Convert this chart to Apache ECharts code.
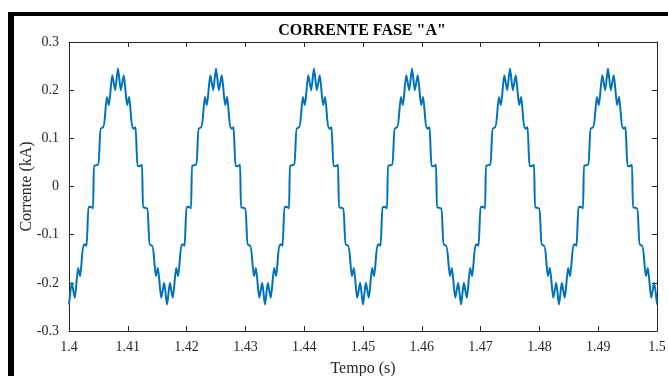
<!DOCTYPE html>
<html>
<head>
<meta charset="utf-8">
<script src="https://cdn.jsdelivr.net/npm/echarts@6/dist/echarts.min.js"></script>
<style>
  html, body { margin: 0; padding: 0; background: #fff; }
  #chart { width: 668px; height: 376px; }
</style>
</head>
<body>
<div id="chart"></div>
<script>
// tempo (s), six cycles from trough to trough
const tempo = [
  1.40000, 1.40048, 1.40099, 1.40155, 1.40190, 1.40242, 1.40270, 1.40300, 1.40330, 1.40370, 1.40410, 1.40423, 1.40460, 1.40504, 1.40534, 1.40565, 1.40592, 1.40644, 1.40679, 1.40735, 1.40786, 1.40833, 1.40881, 1.40932, 1.40988, 1.41023, 1.41075, 1.41105, 1.41133, 1.41163, 1.41203, 1.41243, 1.41257, 1.41293, 1.41337, 1.41367, 1.41398, 1.41425, 1.41477, 1.41512, 1.41568, 1.41619,
  1.41667, 1.41715, 1.41766, 1.41822, 1.41857, 1.41909, 1.41937, 1.41967, 1.41997, 1.42037, 1.42077, 1.42090, 1.42127, 1.42171, 1.42201, 1.42232, 1.42259, 1.42311, 1.42346, 1.42402, 1.42453, 1.42500, 1.42548, 1.42599, 1.42655, 1.42690, 1.42742, 1.42772, 1.42800, 1.42830, 1.42870, 1.42910, 1.42924, 1.42960, 1.43004, 1.43034, 1.43065, 1.43092, 1.43144, 1.43179, 1.43235, 1.43286,
  1.43333, 1.43381, 1.43432, 1.43488, 1.43523, 1.43575, 1.43603, 1.43633, 1.43663, 1.43703, 1.43743, 1.43756, 1.43793, 1.43837, 1.43867, 1.43898, 1.43925, 1.43977, 1.44012, 1.44068, 1.44119, 1.44166, 1.44214, 1.44265, 1.44321, 1.44356, 1.44408, 1.44438, 1.44466, 1.44496, 1.44536, 1.44576, 1.44590, 1.44626, 1.44670, 1.44700, 1.44731, 1.44758, 1.44810, 1.44845, 1.44901, 1.44952,
  1.45000, 1.45048, 1.45099, 1.45155, 1.45190, 1.45242, 1.45270, 1.45300, 1.45330, 1.45370, 1.45410, 1.45423, 1.45460, 1.45504, 1.45534, 1.45565, 1.45592, 1.45644, 1.45679, 1.45735, 1.45786, 1.45833, 1.45881, 1.45932, 1.45988, 1.46023, 1.46075, 1.46105, 1.46133, 1.46163, 1.46203, 1.46243, 1.46257, 1.46293, 1.46337, 1.46367, 1.46398, 1.46425, 1.46477, 1.46512, 1.46568, 1.46619,
  1.46667, 1.46715, 1.46766, 1.46822, 1.46857, 1.46909, 1.46937, 1.46967, 1.46997, 1.47037, 1.47077, 1.47090, 1.47127, 1.47171, 1.47201, 1.47232, 1.47259, 1.47311, 1.47346, 1.47402, 1.47453, 1.47500, 1.47548, 1.47599, 1.47655, 1.47690, 1.47742, 1.47772, 1.47800, 1.47830, 1.47870, 1.47910, 1.47924, 1.47960, 1.48004, 1.48034, 1.48065, 1.48092, 1.48144, 1.48179, 1.48235, 1.48286,
  1.48333, 1.48381, 1.48432, 1.48488, 1.48523, 1.48575, 1.48603, 1.48633, 1.48663, 1.48703, 1.48743, 1.48756, 1.48793, 1.48837, 1.48867, 1.48898, 1.48925, 1.48977, 1.49012, 1.49068, 1.49119, 1.49166, 1.49214, 1.49265, 1.49321, 1.49356, 1.49408, 1.49438, 1.49466, 1.49496, 1.49536, 1.49576, 1.49590, 1.49626, 1.49670, 1.49700, 1.49731, 1.49758, 1.49810, 1.49845, 1.49901, 1.49952,
  1.50000
]

// corrente fase A (kA)
const corrente = [
  -0.245, -0.200, -0.231, -0.169, -0.186, -0.123, -0.120, -0.123, -0.043, -0.042, -0.045, 0.043, 0.044, 0.046, 0.120, 0.122, 0.125, 0.186, 0.169, 0.231, 0.200, 0.245, 0.200, 0.231, 0.169, 0.186, 0.123, 0.120, 0.123, 0.043, 0.042, 0.045, -0.043, -0.044, -0.046, -0.120, -0.122, -0.125, -0.186, -0.169, -0.231, -0.200,
  -0.245, -0.200, -0.231, -0.169, -0.186, -0.123, -0.120, -0.123, -0.043, -0.042, -0.045, 0.043, 0.044, 0.046, 0.120, 0.122, 0.125, 0.186, 0.169, 0.231, 0.200, 0.245, 0.200, 0.231, 0.169, 0.186, 0.123, 0.120, 0.123, 0.043, 0.042, 0.045, -0.043, -0.044, -0.046, -0.120, -0.122, -0.125, -0.186, -0.169, -0.231, -0.200,
  -0.245, -0.200, -0.231, -0.169, -0.186, -0.123, -0.120, -0.123, -0.043, -0.042, -0.045, 0.043, 0.044, 0.046, 0.120, 0.122, 0.125, 0.186, 0.169, 0.231, 0.200, 0.245, 0.200, 0.231, 0.169, 0.186, 0.123, 0.120, 0.123, 0.043, 0.042, 0.045, -0.043, -0.044, -0.046, -0.120, -0.122, -0.125, -0.186, -0.169, -0.231, -0.200,
  -0.245, -0.200, -0.231, -0.169, -0.186, -0.123, -0.120, -0.123, -0.043, -0.042, -0.045, 0.043, 0.044, 0.046, 0.120, 0.122, 0.125, 0.186, 0.169, 0.231, 0.200, 0.245, 0.200, 0.231, 0.169, 0.186, 0.123, 0.120, 0.123, 0.043, 0.042, 0.045, -0.043, -0.044, -0.046, -0.120, -0.122, -0.125, -0.186, -0.169, -0.231, -0.200,
  -0.245, -0.200, -0.231, -0.169, -0.186, -0.123, -0.120, -0.123, -0.043, -0.042, -0.045, 0.043, 0.044, 0.046, 0.120, 0.122, 0.125, 0.186, 0.169, 0.231, 0.200, 0.245, 0.200, 0.231, 0.169, 0.186, 0.123, 0.120, 0.123, 0.043, 0.042, 0.045, -0.043, -0.044, -0.046, -0.120, -0.122, -0.125, -0.186, -0.169, -0.231, -0.200,
  -0.245, -0.200, -0.231, -0.169, -0.186, -0.123, -0.120, -0.123, -0.043, -0.042, -0.045, 0.043, 0.044, 0.046, 0.120, 0.122, 0.125, 0.186, 0.169, 0.231, 0.200, 0.245, 0.200, 0.231, 0.169, 0.186, 0.123, 0.120, 0.123, 0.043, 0.042, 0.045, -0.043, -0.044, -0.046, -0.120, -0.122, -0.125, -0.186, -0.169, -0.231, -0.200,
  -0.245
]

const xTicks = { min: 1.4, max: 1.5, step: 0.01 }
const yTicks = { min: -0.3, max: 0.3, step: 0.1 }

const font = "'Liberation Serif', 'Times New Roman', serif"
const axisColor = '#262626'

const chart = echarts.init(document.getElementById('chart'))

const boxAxis = (extra) => Object.assign({
    type: 'value',
    axisLine: { show: true, onZero: false, lineStyle: { color: axisColor, width: 1 } },
    axisTick: { show: true, inside: true, length: 5, lineStyle: { color: axisColor } },
    splitLine: { show: false },
    axisLabel: { show: false }
}, extra)

chart.setOption({
    animation: false,
    backgroundColor: '#fff',
    title: {
        text: 'CORRENTE FASE "A"',
        left: 357,
        textAlign: 'center',
        top: 18,
        textStyle: { fontFamily: font, fontSize: 16, fontWeight: 'bold', color: '#000' }
    },
    grid: { left: 69, right: 11, top: 42, bottom: 45, outerBoundsMode: 'none', containLabel: false },
    xAxis: [
        boxAxis({
            min: xTicks.min, max: xTicks.max, interval: xTicks.step,
            name: 'Tempo (s)', nameLocation: 'middle', nameGap: 30,
            nameTextStyle: { fontFamily: font, fontSize: 16, color: axisColor },
            axisLabel: { show: true, margin: 9, fontFamily: font, fontSize: 14, color: axisColor }
        }),
        boxAxis({ position: 'top', min: xTicks.min, max: xTicks.max, interval: xTicks.step })
    ],
    yAxis: [
        boxAxis({
            min: yTicks.min, max: yTicks.max, interval: yTicks.step,
            name: 'Corrente (kA)', nameLocation: 'middle', nameGap: 34, nameMoveOverlap: false,
            nameTextStyle: { fontFamily: font, fontSize: 16, color: axisColor },
            axisLabel: { show: true, margin: 10, fontFamily: font, fontSize: 14, color: axisColor }
        }),
        boxAxis({ position: 'right', min: yTicks.min, max: yTicks.max, interval: yTicks.step })
    ],
    series: [
        {
            type: 'line',
            data: tempo.map((t, i) => [t, corrente[i]]),
            showSymbol: false,
            smooth: 0.25,
            smoothMonotone: 'x',
            lineStyle: { color: '#0072BD', width: 2 }
        }
    ],
    graphic: [
        { type: 'rect', shape: { x: 8, y: 12, width: 660, height: 4 }, style: { fill: '#000' } },
        { type: 'rect', shape: { x: 8, y: 12, width: 6, height: 364 }, style: { fill: '#000' } }
    ]
})
</script>
</body>
</html>
